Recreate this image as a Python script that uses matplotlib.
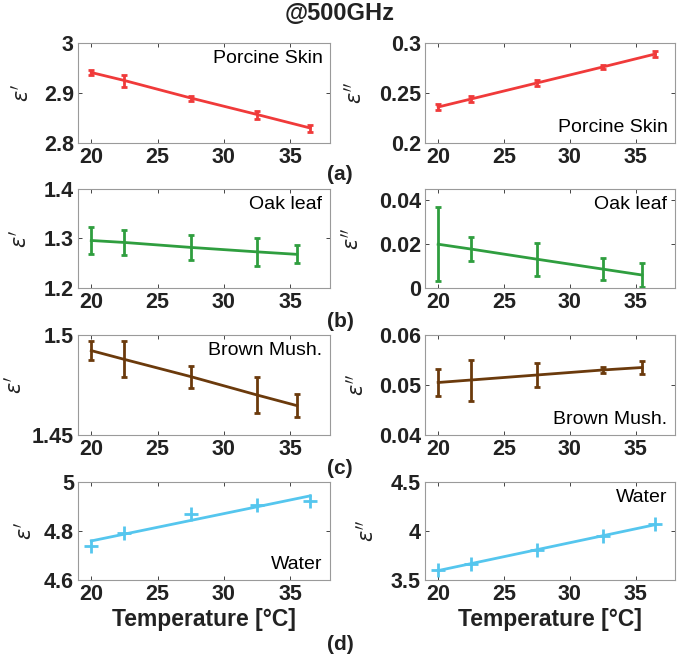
import matplotlib.pyplot as plt
import numpy as np

plt.rcParams['font.family'] = ['Liberation Sans', 'DejaVu Sans']

# Données
temp_a = [20, 22.5, 27.5, 32.5, 36.5]
temp_b = [20, 22.5, 27.5, 32.5, 35.5]

skin_re = [2.941, 2.925, 2.890, 2.857, 2.830]
skin_re_err = [0.005, 0.012, 0.005, 0.008, 0.007]
skin_im = [0.236, 0.244, 0.260, 0.276, 0.289]
skin_im_err = [0.003, 0.003, 0.003, 0.002, 0.003]

oak_re = [1.296, 1.292, 1.282, 1.273, 1.268]
oak_re_err = [0.027, 0.025, 0.025, 0.029, 0.018]
oak_im = [0.0199, 0.0177, 0.0131, 0.0086, 0.0059]
oak_im_err = [0.0168, 0.0053, 0.0075, 0.0050, 0.0054]

mush_re = [1.4922, 1.4878, 1.4792, 1.4700, 1.4647]
mush_re_err = [0.0048, 0.0090, 0.0055, 0.0092, 0.0058]
mush_im = [0.0505, 0.0510, 0.0520, 0.0530, 0.0535]
mush_im_err = [0.0027, 0.0041, 0.0024, 0.0006, 0.0013]

water_re = [4.738, 4.792, 4.871, 4.908, 4.923]
water_im = [3.602, 3.663, 3.805, 3.950, 4.068]

x_ticks = [20, 25, 30, 35]
red, green, brown, cyan = '#f03a3a', '#2f9e3f', '#6b3a0c', '#55c6ee'
eps1 = r"$\varepsilon'$"
eps2 = r"$\varepsilon''$"

fig = plt.figure(figsize=(6.8, 6.6), dpi=100)
W, H = 680, 660


def make_ax(x0, x1, y0, y1):
    return fig.add_axes([x0 / W, 1 - y1 / H, (x1 - x0) / W, (y1 - y0) / H])


def style(ax, yticks, ylim, label, lab_x, name, name_pos):
    ax.set_xlim(19, 38)
    ax.set_ylim(*ylim)
    ax.set_xticks(x_ticks)
    ax.set_xticklabels([str(t) for t in x_ticks])
    ax.set_yticks(yticks)
    ax.set_yticklabels([f'{t:g}' for t in yticks])
    ax.tick_params(direction='in', length=3, width=0.7, color='#444444',
                   top=True, right=True, labelsize=15.5, pad=3,
                   labelcolor='#222222')
    for lab in ax.get_xticklabels() + ax.get_yticklabels():
        lab.set_fontweight('bold')
    for sp in ax.spines.values():
        sp.set_color('#9a9a9a')
        sp.set_linewidth(0.8)
    ax.set_ylabel(label, fontsize=15, color='#222222')
    ax.yaxis.set_label_coords(lab_x, 0.5)
    if name_pos == 'top':
        ax.text(0.97, 0.93, name, transform=ax.transAxes, ha='right',
                va='top', fontsize=14)
    else:
        ax.text(0.97, 0.07, name, transform=ax.transAxes, ha='right',
                va='bottom', fontsize=14)


rows = [(43, 143), (189, 288), (335, 435), (482, 580)]
L = (78, 330)
R = (425, 675)
eb = dict(lw=2, elinewidth=2, capsize=2.5, capthick=2)

# (a) Porcine Skin
ax = make_ax(*L, *rows[0])
ax.errorbar(temp_a, skin_re, yerr=skin_re_err, color=red, **eb)
style(ax, [2.8, 2.9, 3], (2.8, 3.0), eps1, -0.18, 'Porcine Skin', 'top')
ax = make_ax(*R, *rows[0])
ax.errorbar(temp_a, skin_im, yerr=skin_im_err, color=red, **eb)
style(ax, [0.2, 0.25, 0.3], (0.2, 0.3), eps2, -0.24, 'Porcine Skin', 'bottom')

# (b) Oak leaf
ax = make_ax(*L, *rows[1])
ax.errorbar(temp_b, oak_re, yerr=oak_re_err, color=green, **eb)
style(ax, [1.2, 1.3, 1.4], (1.2, 1.4), eps1, -0.19, 'Oak leaf', 'top')
ax = make_ax(*R, *rows[1])
ax.errorbar(temp_b, oak_im, yerr=oak_im_err, color=green, **eb)
style(ax, [0, 0.02, 0.04], (0, 0.045), eps2, -0.25, 'Oak leaf', 'top')

# (c) Brown Mushroom
ax = make_ax(*L, *rows[2])
ax.errorbar(temp_b, mush_re, yerr=mush_re_err, color=brown, **eb)
style(ax, [1.45, 1.5], (1.45, 1.5), eps1, -0.21, 'Brown Mush.', 'top')
ax = make_ax(*R, *rows[2])
ax.errorbar(temp_b, mush_im, yerr=mush_im_err, color=brown, **eb)
style(ax, [0.04, 0.05, 0.06], (0.04, 0.06), eps2, -0.23, 'Brown Mush.', 'bottom')

# (d) Water : points + droite d'ajustement
xa = np.array(temp_a)
ax = make_ax(*L, *rows[3])
p = np.polyfit(xa, water_re, 1)
ax.plot(xa[[0, -1]], np.polyval(p, xa[[0, -1]]), color=cyan, lw=2)
ax.plot(xa, water_re, '+', color=cyan, ms=10, mew=2)
style(ax, [4.6, 4.8, 5], (4.6, 5.0), eps1, -0.17, 'Water', 'bottom')
ax.set_xlabel('Temperature [°C]', fontsize=16.5, fontweight='bold',
              color='#222222', labelpad=2)
ax = make_ax(*R, *rows[3])
p = np.polyfit(xa, water_im, 1)
ax.plot(xa[[0, -1]], np.polyval(p, xa[[0, -1]]), color=cyan, lw=2)
ax.plot(xa, water_im, '+', color=cyan, ms=10, mew=2)
style(ax, [3.5, 4, 4.5], (3.5, 4.5), eps2, -0.19, 'Water', 'top')
ax.set_xlabel('Temperature [°C]', fontsize=16.5, fontweight='bold',
              color='#222222', labelpad=2)

fig.text(0.5, 1 - 14 / H, '@500GHz', ha='center', va='center',
         fontsize=17, fontweight='bold', color='#222222')
for lab, y in zip(['(a)', '(b)', '(c)', '(d)'], [174, 322, 469, 644]):
    fig.text(0.5, 1 - y / H, lab, ha='center', va='center', fontsize=15,
             fontweight='bold', color='#222222')

fig.savefig('out.png', dpi=100)
